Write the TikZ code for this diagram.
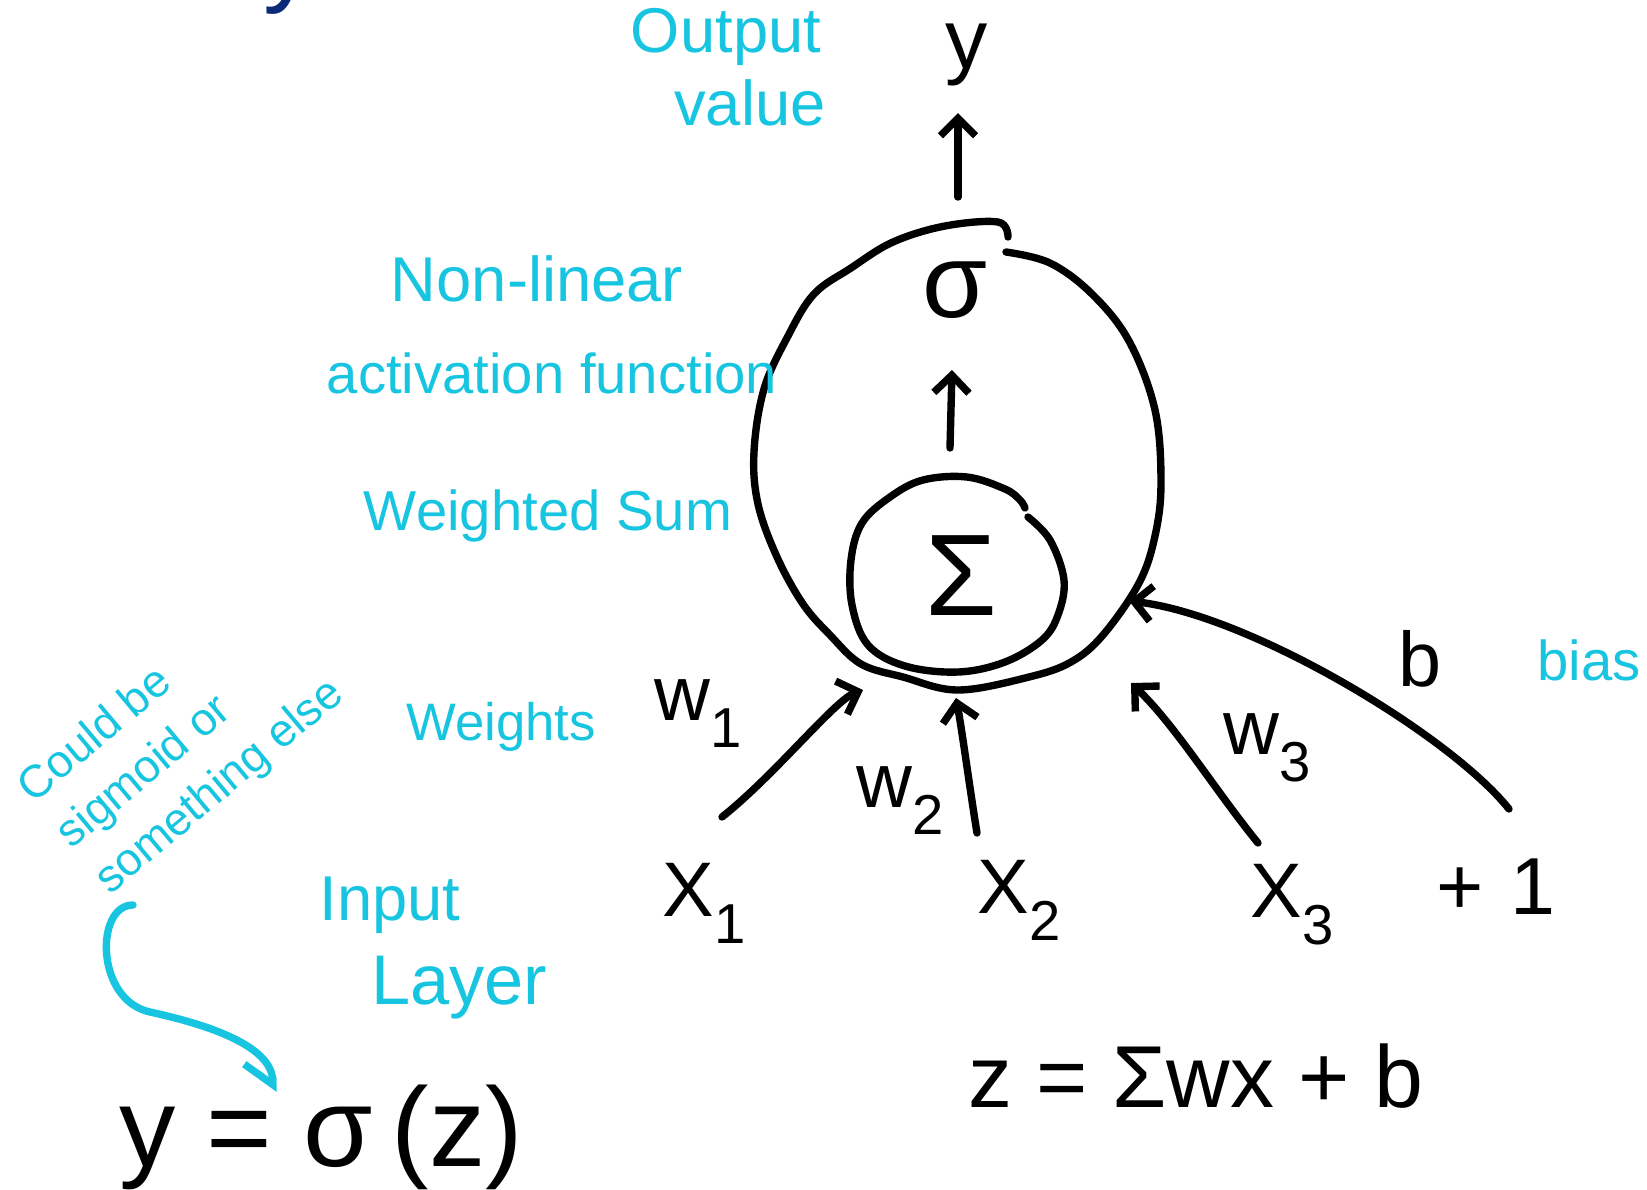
\documentclass[tikz,border=0pt]{standalone}
\usepackage{fontspec}
\setmainfont{Liberation Sans}
\usetikzlibrary{arrows.meta}
\definecolor{inkcyan}{HTML}{17C5E0}
\definecolor{inknavy}{HTML}{0B2A78}
\newcommand{\lowsub}[1]{\raisebox{-0.35em}{\fontsize{16}{16}\selectfont #1}}
\tikzset{
  pen/.style={line width=2.1pt, line cap=round, line join=round},
  penarrow/.style={pen, -{Straight Barb[length=5pt,width=10pt]}},
  cyanpen/.style={pen, draw=inkcyan, line width=2.1pt},
  note/.style={text=inkcyan, inner sep=0pt, font=\fontsize{18}{20}\selectfont},
  sym/.style={inner sep=0pt, font=\fontsize{22}{24}\selectfont},
}

\begin{document}
\begin{tikzpicture}[x=0.01cm, y=-0.01cm]
\useasboundingbox (0,0) rectangle (1647,1190);

\node[sym, text=inknavy, font=\fontsize{30}{30}\selectfont, anchor=base] (cuttop) at (290,-8) {y};

\draw[pen] plot[smooth, tension=0.6] coordinates {(1006,252) (1050,263) (1092,294) (1129,341) (1155,410) (1161,483) (1155,536) (1139,583) (1103,635) (1071,662) (1029,677) (958,690) (903,677) (861,664) (830,635) (803,604) (777,557) (758,504) (754,452) (764,389) (788,336) (814,294) (851,268) (893,242) (945,226) (998,222) (1008,237)};
\draw[pen] plot[smooth, tension=0.6] coordinates {(1028,517) (1050,540) (1064,580) (1058,615) (1042,640) (1005,662) (958,672) (905,666) (868,645) (852,605) (851,560) (862,523) (890,497) (923,480) (967,477) (1005,489) (1020,500) (1025,508)};

\node[sym, font=\fontsize{30}{30}\selectfont] (act) at (955,290) {σ};
\node[sym, font=\fontsize{33}{33}\selectfont] (sumsym) at (961,576) {Σ};
\node[sym, font=\fontsize{24}{24}\selectfont] (yout) at (967,55) {y};

\coordinate (sumtop) at (950,448);
\coordinate (acttip) at (952,370);
\coordinate (outtop) at (958,197);
\coordinate (youttip) at (958,113);
\draw[penarrow] (sumtop) -- (acttip);
\draw[penarrow] (outtop) -- (youttip);

\node[sym] (x1) at (704,903) {X\lowsub{1}};
\node[sym] (x2) at (1019,900) {X\lowsub{2}};
\node[sym] (x3) at (1292,905) {X\lowsub{3}};
\node[sym, font=\fontsize{23}{24}\selectfont] (one) at (1496,887) {+\,\,1};

\node[sym] (w1) at (698,714) {w\lowsub{1}};
\node[sym] (w2) at (900,801) {w\lowsub{2}};
\node[sym] (w3) at (1267,748) {w\lowsub{3}};
\node[sym] (bval) at (1420,659) {b};

\coordinate (x1start) at (722,817);
\coordinate (x1tip) at (863,690);
\coordinate (x2start) at (977,833);
\coordinate (x2tip) at (956,698);
\coordinate (x3start) at (1258,843);
\coordinate (x3tip) at (1131,683);
\coordinate (bstart) at (1509,809);
\coordinate (btip) at (1129,601);
\draw[penarrow] (x1start) .. controls (775,775) and (835,700) .. (x1tip);
\draw[penarrow] (x2start) .. controls (970,790) and (962,730) .. (x2tip);
\draw[penarrow] (x3start) .. controls (1215,790) and (1175,725) .. (x3tip);
\draw[penarrow] (bstart) .. controls (1450,735) and (1250,615) .. (btip);

\node[note] (lblout) at (726,37) {Output};
\node[note] (lblval) at (750,103) {value};
\node[note] (lblnonlin) at (537,279) {Non-linear};
\node[note, font=\fontsize{16}{18}\selectfont] (lblact) at (552,373) {activation function};
\node[note, font=\fontsize{16}{18}\selectfont] (lblsum) at (548,516) {Weighted Sum};
\node[note, font=\fontsize{15}{18}\selectfont] (lblweights) at (501,727) {Weights};
\node[note, font=\fontsize{16}{18}\selectfont] (lblbias) at (1589,660) {bias};
\node[note] (lblinput) at (390,905) {Input};
\node[note, font=\fontsize{20}{22}\selectfont] (lbllayer) at (459,988) {Layer};
\node[note, font=\fontsize{13}{17}\selectfont, align=left, rotate=40] (lblcould) at (182,742) {Could be\\sigmoid or\\something else};

\coordinate (notehook) at (133,905);
\coordinate (sigtip) at (273,1092);
\draw[cyanpen, -{Straight Barb[right,length=6pt,width=16pt]}] (notehook) .. controls (95,905) and (95,1000) .. (150,1012) .. controls (205,1024) and (272,1045) .. (sigtip);

\node[sym, font=\fontsize{32}{32}\selectfont] (eqy) at (321,1137) {y = σ\,(z)};
\node[sym, font=\fontsize{25}{26}\selectfont] (eqz) at (1196,1076) {z = Σwx + b};
\end{tikzpicture}
\end{document}
